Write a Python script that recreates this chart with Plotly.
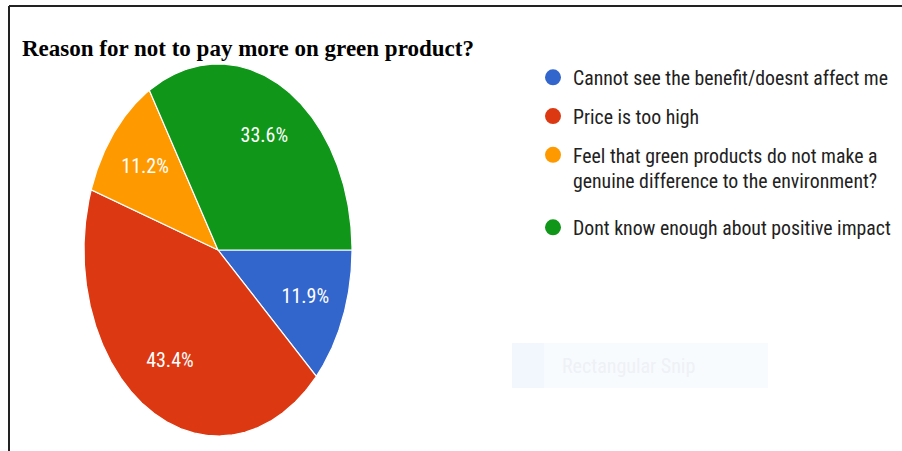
import numpy as np
import plotly.graph_objects as go

categories = [
    "Cannot see the benefit/doesnt affect me",
    "Price is too high",
    "Feel that green products do not make a<br>genuine difference to the environment?",
    "Dont know enough about positive impact",
]
counts = [17, 62, 16, 48]
colors = ["#3366cc", "#dc3912", "#ff9900", "#109618"]
title_text = "Reason for not to pay more on green product?"

W, H = 902, 451
NARROW = "Liberation Sans Narrow, Arial Narrow, Roboto Condensed, DejaVu Sans Condensed, Arial, sans-serif"

fig = go.Figure()

total = float(sum(counts))
start = 0.0
label_x, label_y, label_t = [], [], []
for cat, v, c in zip(categories, counts, colors):
    sweep = 360.0 * v / total
    a0, a1 = start, start - sweep
    th = np.radians(np.linspace(a0, a1, max(int(sweep * 2), 4)))
    xs = np.concatenate([[0], np.cos(th), [0]])
    ys = np.concatenate([[0], np.sin(th), [0]])
    fig.add_trace(go.Scatter(
        x=xs, y=ys, mode="lines", fill="toself", fillcolor=c,
        line=dict(color="white", width=1.2), hoverinfo="skip", showlegend=False,
    ))
    mid = np.radians((a0 + a1) / 2)
    label_x.append(0.7 * np.cos(mid))
    label_y.append(0.7 * np.sin(mid))
    label_t.append(f"{100 * v / total:.1f}%")
    start = a1

fig.add_trace(go.Scatter(
    x=label_x, y=label_y, mode="text", text=label_t,
    textfont=dict(color="white", size=20, family=NARROW),
    textposition="middle center", hoverinfo="skip", showlegend=False,
))

for i, (cat, c) in enumerate(zip(categories, colors)):
    fig.add_trace(go.Scatter(
        x=[None], y=[None], mode="markers", name=cat, legendgroup=str(i),
        legend="legend2" if i == len(categories) - 1 else "legend",
        marker=dict(symbol="circle", size=17, color=c),
    ))

# frame lines from the screenshot
fig.add_shape(type="line", xref="paper", yref="paper",
              x0=9 / W, x1=1, y0=1 - 6 / H, y1=1 - 6 / H,
              line=dict(color="#222222", width=2))
fig.add_shape(type="line", xref="paper", yref="paper",
              x0=9 / W, x1=9 / W, y0=0, y1=1 - 6 / H,
              line=dict(color="#222222", width=2))
# faint snip overlay
fig.add_shape(type="rect", xref="paper", yref="paper",
              x0=512 / W, x1=768 / W, y0=1 - 388 / H, y1=1 - 343 / H,
              fillcolor="#f8fbfe", line=dict(width=0), layer="below")
fig.add_shape(type="rect", xref="paper", yref="paper",
              x0=512 / W, x1=544 / W, y0=1 - 388 / H, y1=1 - 343 / H,
              fillcolor="#f2f7fd", line=dict(width=0), layer="below")
fig.add_annotation(xref="paper", yref="paper", x=560 / W, y=1 - 366 / H,
                   xanchor="left", yanchor="middle", showarrow=False,
                   text="Rectangular Snip",
                   font=dict(size=20, color="#eef1f5", family=NARROW))

legend_common = dict(xanchor="left", yanchor="top", valign="top",
                     font=dict(size=19.8, color="#222222", family=NARROW),
                     tracegroupgap=10, bgcolor="rgba(0,0,0,0)")

fig.update_layout(
    width=W, height=H, autosize=False,
    margin=dict(l=0, r=0, t=0, b=0),
    paper_bgcolor="white", plot_bgcolor="white",
    title=dict(text="<b>" + title_text + "</b>", x=22 / W, xanchor="left",
               y=1 - 48 / H, yanchor="middle", xref="paper", yref="paper",
               font=dict(family="Liberation Serif, Times New Roman, serif", size=23, color="#000000")),
    xaxis=dict(domain=[84 / W, 352 / W], range=[-1, 1], visible=False, fixedrange=True),
    yaxis=dict(domain=[1 - 436 / H, 1 - 64 / H], range=[-1, 1], visible=False, fixedrange=True),
    legend=dict(x=533 / W, y=1 - 58 / H, **legend_common),
    legend2=dict(x=533 / W, y=1 - 208 / H, **legend_common),
    showlegend=True,
)

fig.write_html("out.html", config={"displayModeBar": False},
               post_script="document.body.style.margin='0';document.body.style.overflow='hidden';")
